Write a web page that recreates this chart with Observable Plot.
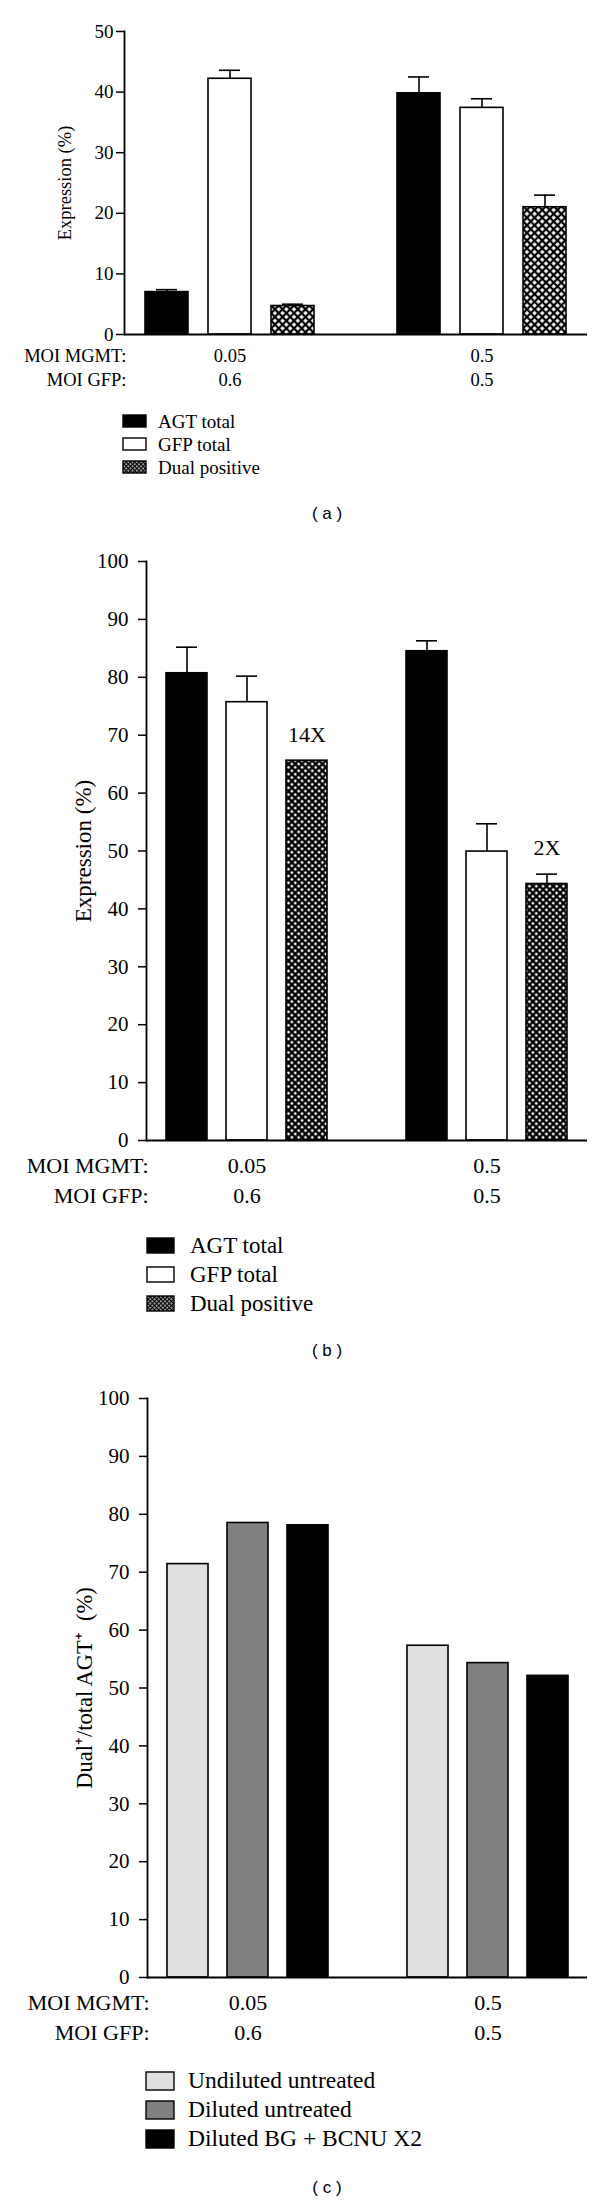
<!DOCTYPE html>
<html>
<head>
<meta charset="utf-8">
<script src="https://cdn.jsdelivr.net/npm/d3@7"></script>
<script src="https://cdn.jsdelivr.net/npm/@observablehq/plot@0.6"></script>
<style>
  body { margin: 0; background: #fff; }
  #page { position: relative; width: 600px; height: 2202px; background: #fff; overflow: hidden;
          font-family: "Liberation Serif", "Times New Roman", serif; color: #000; }
  .slot { position: absolute; left: 0; }
  .lgtext { position: absolute; white-space: nowrap; line-height: 1; transform: translateY(-50%); }
  .cap { position: absolute; white-space: nowrap; line-height: 1; transform: translate(-50%, -50%);
         font-family: "Liberation Sans", Arial, sans-serif; }
</style>
</head>
<body>
<svg width="0" height="0" style="position:absolute">
  <defs>
    <pattern id="hatchA" width="5.4" height="5.4" patternUnits="userSpaceOnUse" patternTransform="rotate(45)">
      <rect width="5.4" height="5.4" fill="#fff"/>
      <path d="M0 2.7H5.4M2.7 0V5.4" stroke="#000" stroke-width="2.2"/>
    </pattern>
    <pattern id="hatchB" width="4.8" height="4.8" patternUnits="userSpaceOnUse" patternTransform="rotate(45)">
      <rect width="4.8" height="4.8" fill="#fff"/>
      <path d="M0 2.4H4.8M2.4 0V4.8" stroke="#000" stroke-width="2.3"/>
    </pattern>
    <pattern id="hatchFine" width="3" height="3" patternUnits="userSpaceOnUse" patternTransform="rotate(45)">
      <rect width="3" height="3" fill="#fff"/>
      <path d="M0 1.5H3M1.5 0V3" stroke="#000" stroke-width="1.4"/>
    </pattern>
  </defs>
</svg>
<div id="page"></div>
<script>
// ---------- data ----------
const moiMGMT = ["0.05", "0.5"];
const moiGFP = ["0.6", "0.5"];
const rowLabel = "MOI MGMT:\nMOI GFP:";

// Panel (a)
const seriesAB = ["AGT total", "GFP total", "Dual positive"];
const aAGT = [7.0, 39.8];
const aAGTsd = [0.4, 2.7];
const aGFP = [42.2, 37.4];
const aGFPsd = [1.4, 1.5];
const aDual = [4.7, 21.0];
const aDualsd = [0.3, 2.0];
const aTicks = [0, 10, 20, 30, 40, 50];

// Panel (b)
const bAGT = [80.7, 84.5];
const bAGTsd = [4.5, 1.8];
const bGFP = [75.7, 49.9];
const bGFPsd = [4.5, 4.8];
const bDual = [65.6, 44.3];
const bDualsd = [0, 1.7];
const bFold = ["14X", "2X"];
const bTicks = [0, 10, 20, 30, 40, 50, 60, 70, 80, 90, 100];

// Panel (c)
const seriesC = ["Undiluted untreated", "Diluted untreated", "Diluted BG + BCNU X2"];
const cUndiluted = [71.4, 57.3];
const cDiluted = [78.5, 54.3];
const cBG = [78.1, 52.1];
const cTicks = [0, 10, 20, 30, 40, 50, 60, 70, 80, 90, 100];

// ---------- styles ----------
const fillsA = ["#000", "#fff", "url(#hatchA)"];
const fillsB = ["#000", "#fff", "url(#hatchB)"];
const fillsC = ["#e0e0e0", "#808080", "#000"];
const legendFillsAB = ["#000", "#fff", "url(#hatchFine)"];

const page = document.getElementById("page");

function panel(cfg) {
  const keys = [];
  cfg.groups.forEach((g, gi) => {
    if (gi) keys.push("gap");
    cfg.series.forEach(s => keys.push(g + "|" + s));
  });
  const rows = [];
  cfg.groups.forEach((g, gi) => cfg.series.forEach((s, si) => rows.push({
    key: g + "|" + s, series: s, value: cfg.values[si][gi],
    sd: cfg.sds ? cfg.sds[si][gi] : 0
  })));
  const errRows = rows.filter(d => d.sd > 0);
  const groupLabels = cfg.groups.map((g, gi) => ({
    key: g + "|" + cfg.series[1], text: cfg.groups[gi] + "\n" + cfg.groups2[gi]
  }));
  const marks = [
    Plot.barY(rows, {x: "key", y: "value", fill: "series", stroke: "#000", strokeWidth: 1.6}),
    Plot.ruleX(errRows, {x: "key", y1: "value", y2: d => d.value + d.sd, stroke: "#000", strokeWidth: 1.6}),
    Plot.tickY(errRows, {x: "key", y: d => d.value + d.sd, insetLeft: cfg.capInset, insetRight: cfg.capInset, stroke: "#000", strokeWidth: 1.6}),
    Plot.ruleY([0], {stroke: "#000", strokeWidth: 1.8}),
    Plot.frame({anchor: "left", stroke: "#000", strokeWidth: 1.8}),
    Plot.axisY({ticks: cfg.ticks, tickSize: cfg.tickSize, tickPadding: cfg.tickPadding, fontSize: cfg.tickFont, strokeWidth: 1.5, label: null, tickFormat: d => String(d)}),
    Plot.text([cfg.ylabel], {frameAnchor: "left", textAnchor: "middle", lineAnchor: "middle", rotate: -90, dx: cfg.ylabelX - cfg.ml, fontSize: cfg.ylabelFont}),
    Plot.text(groupLabels, {x: "key", text: "text", frameAnchor: "bottom", textAnchor: "middle", lineAnchor: "top", dy: cfg.moiDy, lineHeight: cfg.moiLH, fontSize: cfg.moiFont}),
    Plot.text([rowLabel], {frameAnchor: "bottom-left", textAnchor: "end", lineAnchor: "top", dx: 2, dy: cfg.moiDy, lineHeight: cfg.moiLH, fontSize: cfg.moiFont})
  ];
  if (cfg.fold) {
    const foldRows = cfg.groups.map((g, gi) => {
      const r = rows.find(d => d.key === g + "|" + cfg.series[2]);
      return {key: r.key, top: r.value + r.sd, text: cfg.fold[gi]};
    });
    marks.push(Plot.text(foldRows, {x: "key", y: "top", text: "text", textAnchor: "middle", lineAnchor: "bottom", dy: -19, fontSize: cfg.foldFont}));
  }
  const svg = Plot.plot({
    width: 600, height: cfg.height,
    marginLeft: cfg.ml, marginRight: 13, marginTop: cfg.mt, marginBottom: cfg.mb,
    style: {fontFamily: "'Liberation Serif', 'Times New Roman', serif", fontSize: cfg.tickFont + "px", background: "transparent", color: "#000", overflow: "visible"},
    x: {domain: keys, padding: 0.32, axis: null},
    y: {domain: [0, cfg.ticks[cfg.ticks.length - 1]], axis: null},
    color: {type: "ordinal", domain: cfg.series, range: cfg.fills},
    marks
  });
  const slot = document.createElement("div");
  slot.className = "slot";
  slot.style.top = cfg.top + "px";
  slot.appendChild(svg);
  page.appendChild(slot);
}

function legend(cfg) {
  cfg.items.forEach((name, i) => {
    const c = cfg.centers[i];
    const sw = document.createElementNS("http://www.w3.org/2000/svg", "svg");
    sw.setAttribute("width", cfg.sw + 2);
    sw.setAttribute("height", cfg.sh + 2);
    sw.style.position = "absolute";
    sw.style.left = (cfg.left - 1) + "px";
    sw.style.top = (c - cfg.sh / 2 - 1) + "px";
    const r = document.createElementNS("http://www.w3.org/2000/svg", "rect");
    r.setAttribute("x", 1); r.setAttribute("y", 1);
    r.setAttribute("width", cfg.sw); r.setAttribute("height", cfg.sh);
    r.setAttribute("fill", cfg.fills[i]);
    r.setAttribute("stroke", "#000");
    r.setAttribute("stroke-width", 1.4);
    sw.appendChild(r);
    page.appendChild(sw);
    const t = document.createElement("div");
    t.className = "lgtext";
    t.style.left = cfg.textLeft + "px";
    t.style.top = c + "px";
    t.style.fontSize = cfg.font + "px";
    t.textContent = name;
    page.appendChild(t);
  });
}

function caption(text, cx, cy) {
  const d = document.createElement("div");
  d.className = "cap";
  d.style.left = cx + "px";
  d.style.top = cy + "px";
  d.style.fontSize = "17px";
  d.textContent = text;
  page.appendChild(d);
}

// Panel (a)
panel({
  top: 0, height: 400, mt: 31, mb: 66, ml: 124,
  groups: moiMGMT, groups2: moiGFP, series: seriesAB,
  values: [aAGT, aGFP, aDual], sds: [aAGTsd, aGFPsd, aDualsd],
  fills: fillsA, ticks: aTicks, capInset: 11,
  tickSize: 8, tickPadding: 3, tickFont: 19,
  ylabel: "Expression (%)", ylabelX: 65, ylabelFont: 18.5,
  moiDy: 10, moiLH: 1.3, moiFont: 18.5
});
legend({items: seriesAB, fills: legendFillsAB, centers: [421, 444, 467], left: 123, sw: 23, sh: 12, textLeft: 158, font: 19});
caption("( a )", 327, 513);

// Panel (b)
panel({
  top: 540, height: 670, mt: 21, mb: 70, ml: 146,
  groups: moiMGMT, groups2: moiGFP, series: seriesAB,
  values: [bAGT, bGFP, bDual], sds: [bAGTsd, bGFPsd, bDualsd],
  fills: fillsB, ticks: bTicks, capInset: 10,
  tickSize: 8, tickPadding: 10, tickFont: 21,
  ylabel: "Expression (%)", ylabelX: 83, ylabelFont: 23,
  moiDy: 11.4, moiLH: 1.36, moiFont: 22,
  fold: bFold, foldFont: 22
});
legend({items: seriesAB, fills: legendFillsAB, centers: [1245, 1274, 1303], left: 147, sw: 27, sh: 15, textLeft: 190, font: 23});
caption("( b )", 327, 1350);

// Panel (c)
panel({
  top: 1377, height: 670, mt: 21, mb: 70, ml: 147,
  groups: moiMGMT, groups2: moiGFP, series: seriesC,
  values: [cUndiluted, cDiluted, cBG], sds: null,
  fills: fillsC, ticks: cTicks, capInset: 10,
  tickSize: 8, tickPadding: 10, tickFont: 21,
  ylabel: "Dual\u207A/total AGT\u207A  (%)", ylabelX: 84, ylabelFont: 22.5,
  moiDy: 11.4, moiLH: 1.36, moiFont: 22
});
legend({items: seriesC, fills: fillsC, centers: [2081, 2110, 2139], left: 146, sw: 28, sh: 18, textLeft: 188, font: 23.5});
caption("( c )", 327, 2187);
</script>
</body>
</html>
